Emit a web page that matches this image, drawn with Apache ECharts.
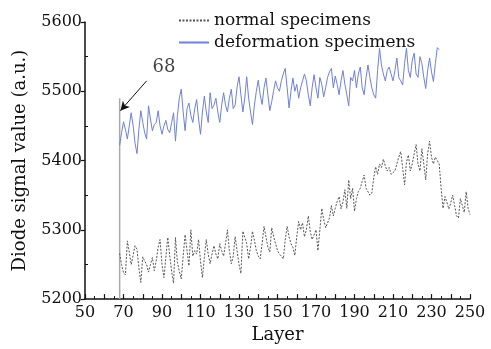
<!DOCTYPE html>
<html>
<head>
<meta charset="utf-8">
<script src="https://cdn.jsdelivr.net/npm/echarts@6/dist/echarts.min.js"></script>
<style>
  html, body { margin: 0; padding: 0; background: #fff; }
  #chart { width: 491px; height: 349px; }
</style>
</head>
<body>
<div id="chart"></div>
<script>
// layers start at 68 for both curves
const startLayer = 68
const normalValues = [
  5266, 5250, 5238, 5235, 5284, 5268, 5250, 5248, 5277, 5272,
  5245, 5224, 5261, 5255, 5250, 5239, 5250, 5260, 5241, 5255,
  5275, 5286, 5250, 5231, 5260, 5289, 5263, 5240, 5223, 5289,
  5253, 5240, 5229, 5262, 5293, 5270, 5248, 5300, 5262, 5270,
  5265, 5286, 5255, 5231, 5260, 5286, 5265, 5251, 5265, 5277,
  5265, 5258, 5280, 5270, 5262, 5280, 5300, 5270, 5251, 5262,
  5290, 5270, 5250, 5237, 5298, 5296, 5280, 5258, 5275, 5298,
  5285, 5270, 5262, 5258, 5280, 5305, 5290, 5275, 5268, 5303,
  5290, 5280, 5270, 5265, 5262, 5258, 5285, 5305, 5290, 5280,
  5275, 5263, 5290, 5312, 5300, 5310, 5290, 5300, 5320, 5298,
  5286, 5286, 5300, 5270, 5300, 5331, 5315, 5303, 5310, 5317,
  5335, 5320, 5331, 5341, 5348, 5330, 5340, 5358, 5331, 5372,
  5345, 5360, 5327, 5345, 5355, 5360, 5370, 5379, 5360, 5358,
  5350, 5353, 5375, 5391, 5380, 5395, 5390, 5402, 5392, 5385,
  5390, 5380, 5379, 5385, 5395, 5405, 5413, 5390, 5365, 5398,
  5408, 5385, 5395, 5410, 5423, 5395, 5385, 5417, 5395, 5372,
  5410, 5428, 5405, 5395, 5405, 5400, 5395, 5360, 5331, 5348,
  5340, 5330, 5339, 5350, 5335, 5320, 5317, 5345, 5335, 5325,
  5355, 5331, 5322
]
const deformValues = [
  5422, 5440, 5456, 5445, 5431, 5450, 5469, 5450, 5425, 5410,
  5445, 5472, 5455, 5440, 5431, 5479, 5460, 5443, 5452, 5455,
  5472, 5450, 5438, 5450, 5458, 5445, 5440, 5455, 5469, 5428,
  5465, 5490, 5503, 5470, 5443, 5475, 5483, 5465, 5455, 5475,
  5488, 5460, 5438, 5470, 5493, 5470, 5455, 5498, 5475, 5480,
  5490, 5470, 5455, 5480, 5498, 5480, 5470, 5490, 5503, 5475,
  5480, 5506, 5521, 5495, 5470, 5490, 5521, 5490, 5470, 5452,
  5480, 5500, 5516, 5495, 5481, 5505, 5519, 5495, 5472, 5485,
  5501, 5515, 5505, 5500, 5515, 5525, 5533, 5505, 5476, 5500,
  5519, 5500, 5510, 5490, 5505, 5515, 5525, 5515, 5495, 5479,
  5505, 5524, 5505, 5490, 5520, 5510, 5492, 5505, 5520, 5528,
  5533, 5505, 5522, 5510, 5495, 5515, 5530, 5510, 5495, 5479,
  5520, 5515, 5530, 5505, 5525, 5535, 5505, 5495, 5520, 5538,
  5520, 5505, 5495, 5490, 5530, 5562, 5538, 5525, 5515, 5530,
  5535, 5525, 5515, 5530, 5548, 5520, 5515, 5509, 5540, 5562,
  5530, 5520, 5545, 5555, 5525, 5520, 5550, 5540, 5520, 5504,
  5530, 5548, 5528, 5514, 5540, 5563, 5560
]
// marker at layer 68
const markerLayer = 68
const markerTop = 5490
const arrowFrom = [82, 5515]
const arrowTo = [68.4, 5472]
const markerText = [91, 5534]

const xTicks = { min: 50, max: 250, step: 10, labelStep: 20 }
const yTicks = { min: 5200, max: 5600, step: 100 }

const toPairs = (vals) => vals.map((v, i) => [startLayer + i, v])

const font = 'DejaVu Serif'
const myChart = echarts.init(document.getElementById('chart'))
myChart.setOption({
  animation: false,
  backgroundColor: '#fff',
  textStyle: { fontFamily: font },
  legend: {
    orient: 'vertical',
    left: 173,
    top: 7,
    itemGap: 5,
    itemWidth: 30,
    itemHeight: 10,
    itemStyle: { opacity: 0 },
    textStyle: { fontFamily: font, fontSize: 17, color: '#111' },
    data: ['normal specimens', 'deformation specimens']
  },
  grid: { left: 85, right: 21, top: 22, bottom: 47 },
  xAxis: {
    type: 'value',
    min: xTicks.min,
    max: xTicks.max,
    interval: xTicks.step,
    name: 'Layer',
    nameLocation: 'middle',
    nameGap: 23,
    nameTextStyle: { fontFamily: font, fontSize: 18, color: '#111' },
    axisLine: { lineStyle: { color: '#111', width: 1.5 } },
    axisTick: { inside: true, length: 5, lineStyle: { color: '#111', width: 1.2 } },
    minorTick: { show: true, splitNumber: 2, length: 3, lineStyle: { color: '#111', width: 1 } },
    splitLine: { show: false },
    axisLabel: {
      color: '#111', fontSize: 16, fontFamily: font, margin: 6,
      formatter: (v) => ((v - xTicks.min) % xTicks.labelStep === 0 ? String(v) : '')
    }
  },
  yAxis: [
    {
      type: 'value',
      min: yTicks.min,
      max: yTicks.max,
      interval: yTicks.step,
      position: 'left',
      name: 'Diode signal value (a.u.)',
      nameLocation: 'middle',
      nameGap: 56,
      nameTextStyle: { fontFamily: font, fontSize: 18, color: '#111' },
      axisLine: { show: true, lineStyle: { color: '#111', width: 1.5 } },
      axisTick: { show: true, length: 4, lineStyle: { color: '#111', width: 1.2 } },
      splitLine: { show: false },
      axisLabel: { color: '#111', fontSize: 16, fontFamily: font, margin: 3, formatter: (v) => String(v) }
    },
    {
      // inner minor ticks only
      type: 'value',
      min: yTicks.min,
      max: yTicks.max,
      interval: yTicks.step,
      position: 'left',
      offset: 0,
      axisLine: { show: false },
      axisTick: { show: false, inside: true },
      minorTick: { show: true, splitNumber: 2, length: 3, lineStyle: { color: '#111', width: 1 } },
      axisLabel: { show: false },
      splitLine: { show: false }
    }
  ],
  series: [
    {
      name: 'marker',
      type: 'line',
      symbol: 'none',
      silent: true,
      lineStyle: { color: '#aaa', width: 1.5 },
      data: [[markerLayer, yTicks.min], [markerLayer, markerTop]],
      markLine: {
        silent: true,
        symbol: ['none', 'arrow'],
        symbolSize: [7, 9],
        label: { show: false },
        lineStyle: { color: '#111', width: 1, type: 'solid' },
        data: [[{ coord: arrowFrom }, { coord: arrowTo }]]
      }
    },
    {
      name: 'marker text',
      type: 'scatter',
      symbolSize: 0,
      silent: true,
      label: { show: true, position: 'inside', formatter: '68', fontFamily: font, fontSize: 18, color: '#111' },
      data: [markerText]
    },
    {
      name: 'normal specimens',
      type: 'line',
      symbol: 'none',
      lineStyle: { color: '#555', width: 1, type: [2, 1.5] },
      itemStyle: { color: '#555' },
      data: toPairs(normalValues)
    },
    {
      name: 'deformation specimens',
      type: 'line',
      symbol: 'none',
      lineStyle: { color: '#6f80d8', width: 1 },
      itemStyle: { color: '#6f80d8' },
      data: toPairs(deformValues)
    }
  ]
})
</script>
</body>
</html>
